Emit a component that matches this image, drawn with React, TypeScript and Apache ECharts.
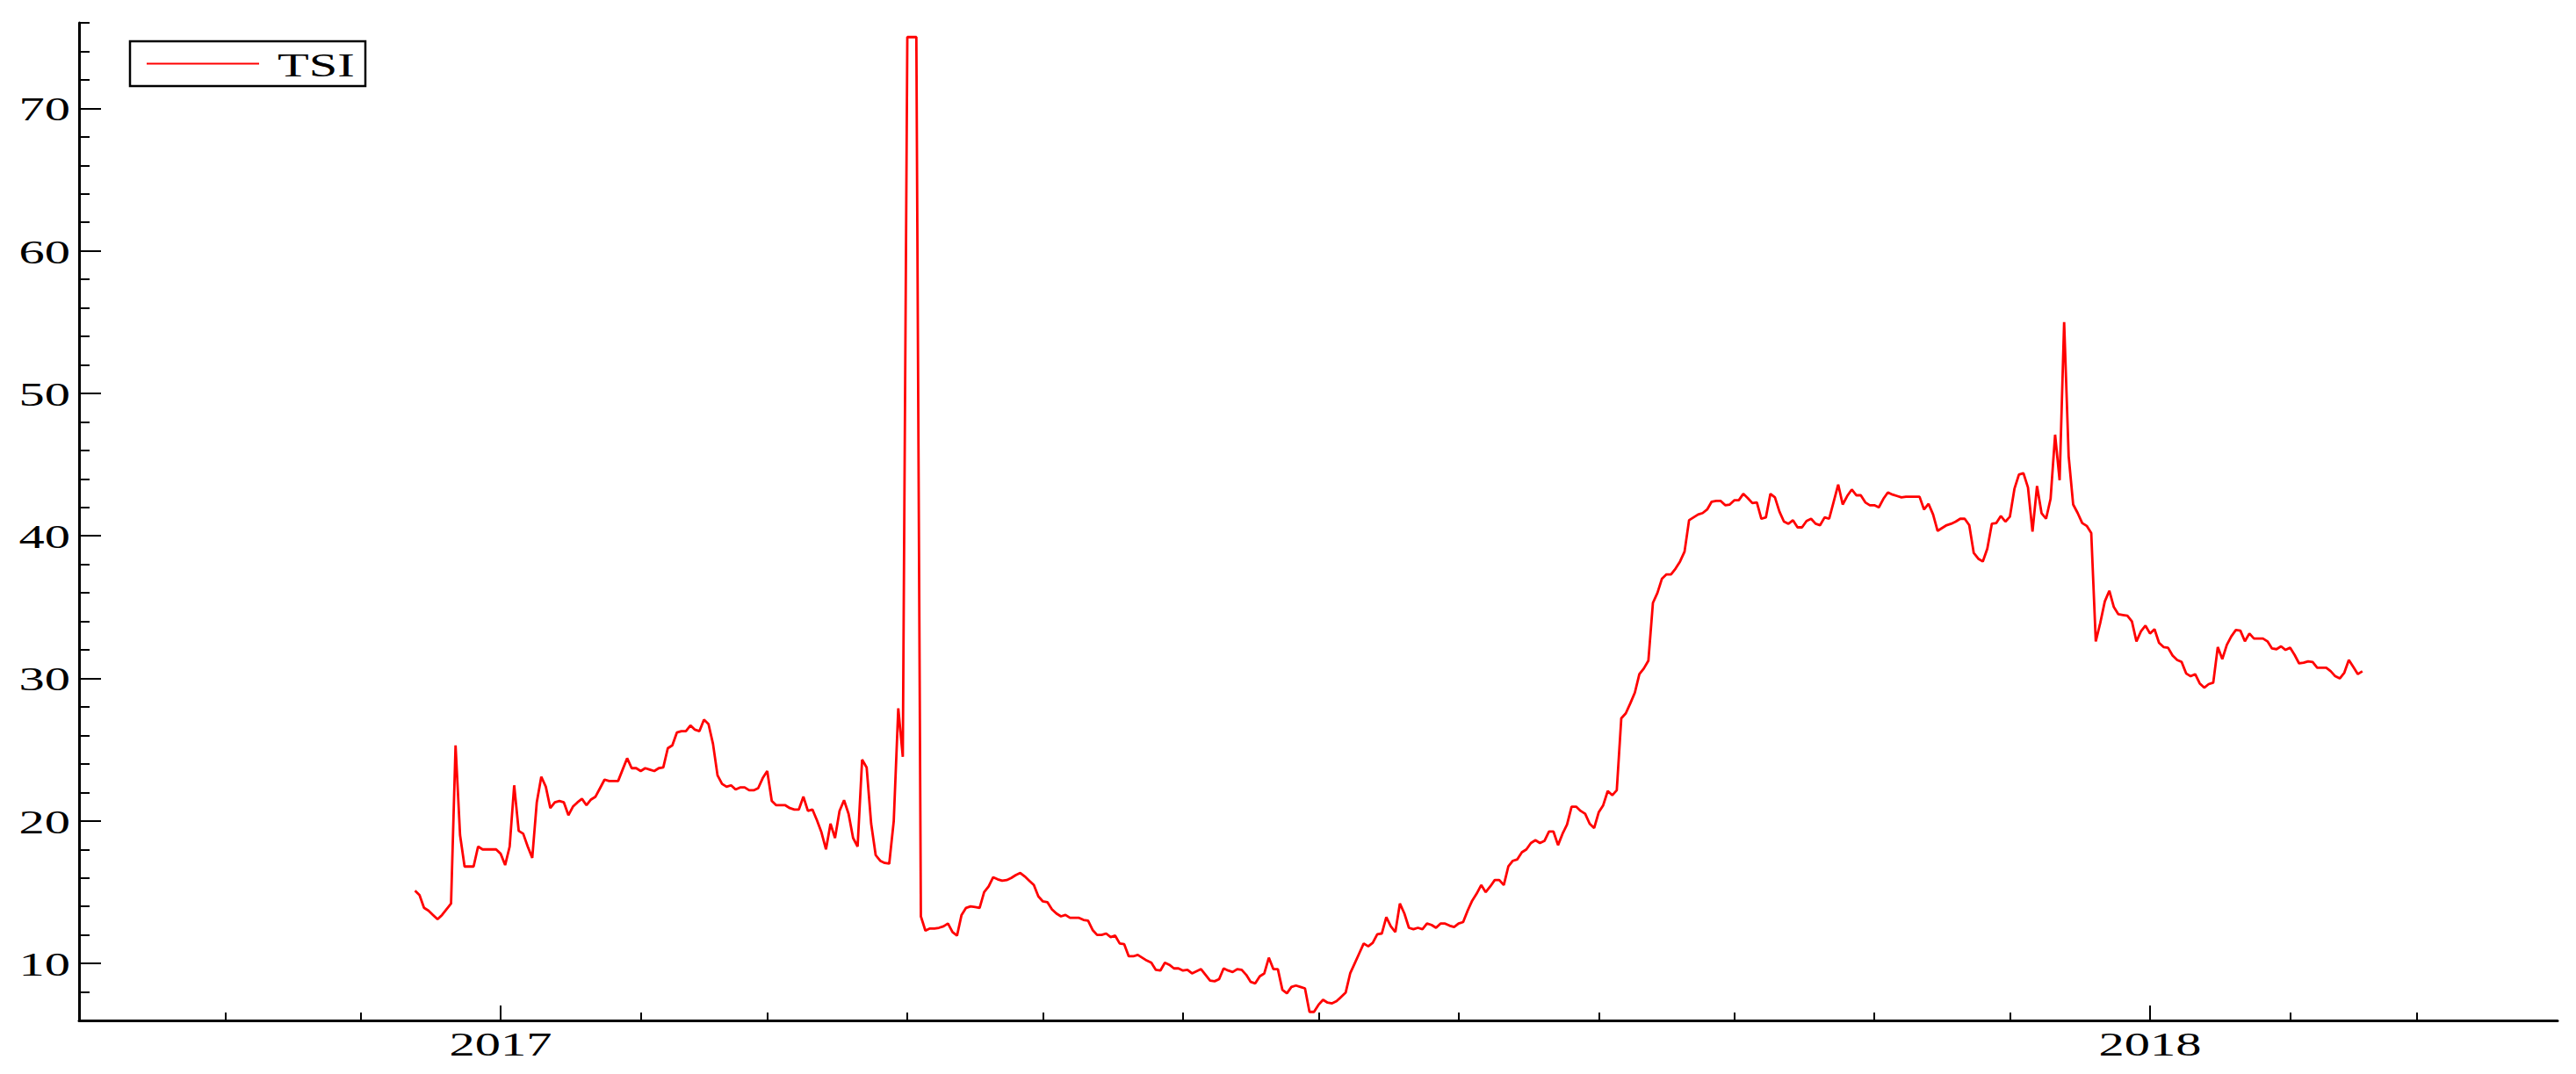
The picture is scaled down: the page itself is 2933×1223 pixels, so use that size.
import React, { useEffect, useRef } from 'react';
import * as echarts from 'echarts';

// ---- data ----
const seriesName = 'TSI';
const startDate = '2016-12-13'; // first daily observation
const tsi: number[] = [
  15.1, 14.8, 13.9, 13.7, 13.4, 13.1, 13.4, 13.8, 14.2, 25.3,
  19.0, 16.8, 16.8, 16.8, 18.2, 18.0, 18.0, 18.0, 18.0, 17.7,
  16.9, 18.2, 22.5, 19.3, 19.1, 18.2, 17.4, 21.3, 23.1, 22.4,
  20.9, 21.3, 21.4, 21.3, 20.4, 21.0, 21.3, 21.55, 21.1, 21.5,
  21.7, 22.3, 22.9, 22.8, 22.8, 22.8, 23.6, 24.4, 23.7, 23.7,
  23.5, 23.7, 23.6, 23.5, 23.7, 23.75, 25.1, 25.3, 26.2, 26.3,
  26.3, 26.7, 26.4, 26.3, 27.1, 26.8, 25.4, 23.2, 22.6, 22.4,
  22.5, 22.2, 22.35, 22.35, 22.15, 22.15, 22.3, 23.0, 23.5, 21.4,
  21.1, 21.1, 21.1, 20.9, 20.8, 20.8, 21.7, 20.7, 20.8, 20.05,
  19.2, 18.0, 19.8, 18.8, 20.7, 21.45, 20.5, 18.8, 18.2, 24.3,
  23.75, 19.8, 17.6, 17.2, 17.05, 17.0, 20.0, 27.9, 24.5, 75,
  75, 75, 13.3, 12.3, 12.45, 12.45, 12.5, 12.6, 12.8, 12.2,
  11.95, 13.4, 13.9, 14.0, 13.95, 13.9, 15.0, 15.4, 16.05, 15.9,
  15.8, 15.85, 16.0, 16.2, 16.35, 16.1, 15.8, 15.5, 14.7, 14.35,
  14.3, 13.8, 13.5, 13.3, 13.4, 13.2, 13.2, 13.2, 13.05, 13.0,
  12.35, 12.0, 12.0, 12.1, 11.85, 11.95, 11.4, 11.35, 10.5, 10.5,
  10.6, 10.4, 10.2, 10.05, 9.55, 9.5, 10.05, 9.9, 9.65, 9.65,
  9.5, 9.55, 9.3, 9.45, 9.6, 9.2, 8.8, 8.75, 8.9,
  9.65, 9.5, 9.4, 9.6, 9.55, 9.2, 8.7, 8.6, 9.1, 9.3,
  10.4, 9.6, 9.6, 8.15, 7.9, 8.35, 8.45, 8.35, 8.25, 6.6,
  6.6, 7.1, 7.45, 7.25, 7.2, 7.35, 7.65, 7.95, 9.3, 10.0,
  10.7, 11.4, 11.2, 11.45, 12.05, 12.1, 13.25, 12.6, 12.2, 14.2,
  13.5, 12.5, 12.4, 12.5, 12.4, 12.8, 12.7, 12.5, 12.8, 12.8,
  12.65, 12.55, 12.8, 12.9, 13.7, 14.4, 14.9, 15.5, 15.0, 15.4,
  15.85, 15.85, 15.5, 16.8, 17.2, 17.3, 17.8, 18.0, 18.45, 18.65,
  18.45, 18.6, 19.25, 19.25, 18.3, 19.1, 19.75, 21.0, 21.0, 20.7,
  20.5, 19.8, 19.5, 20.6, 21.1, 22.1, 21.8, 22.15, 27.2, 27.55,
  28.25, 29.0, 30.3, 30.7, 31.25, 35.3, 36.0, 37.0, 37.3, 37.3,
  37.7, 38.2, 38.9, 41.1, 41.3, 41.5, 41.6, 41.85, 42.4, 42.45,
  42.45, 42.15, 42.2, 42.5, 42.5, 42.95, 42.65, 42.3, 42.35, 41.2,
  41.3, 42.95, 42.7, 41.7, 41.0, 40.85, 41.1, 40.6, 40.6, 41.05,
  41.2, 40.85, 40.75, 41.3, 41.2, 42.4, 43.6, 42.2, 42.8, 43.25,
  42.85, 42.85, 42.35, 42.15, 42.15, 42.0, 42.6, 43.05, 42.9, 42.8,
  42.7, 42.75, 42.75, 42.75, 42.75, 41.85, 42.25, 41.5, 40.35, 40.55,
  40.75, 40.85, 41.0, 41.2, 41.2, 40.75, 38.8, 38.4, 38.2, 39.1,
  40.85, 40.9, 41.4, 41.0, 41.35, 43.3, 44.3, 44.4, 43.4, 40.3,
  43.5, 41.6, 41.2, 42.6, 47.1, 43.9, 55.0, 45.6, 42.2, 41.6,
  40.9, 40.7, 40.2, 32.6, 33.9, 35.4, 36.15, 35.0, 34.5, 34.45,
  34.4, 34.0, 32.6, 33.3, 33.7, 33.15, 33.45, 32.5, 32.2, 32.15,
  31.6, 31.3, 31.15, 30.35, 30.15, 30.3, 29.65, 29.35, 29.6, 29.7,
  32.2, 31.35, 32.35, 32.95, 33.4, 33.35, 32.6, 33.15, 32.8, 32.8,
  32.8, 32.6, 32.1, 32.05, 32.25, 32.0, 32.15, 31.65, 31.05, 31.1,
  31.2, 31.15, 30.75, 30.75, 30.75, 30.5, 30.15, 30.0, 30.4, 31.3,
  30.8, 30.3, 30.5,
];

const xMin = 2016.7444; // decimal years
const xMax = 2018.2471;
const yMin = 6;
const yMax = 76;
const yearLabels = [2017, 2018];
const monthTickDates = [
  '2016-11-01', '2016-12-01',
  '2017-01-01', '2017-02-01', '2017-03-01', '2017-04-01', '2017-05-01', '2017-06-01',
  '2017-07-01', '2017-08-01', '2017-09-01', '2017-10-01', '2017-11-01', '2017-12-01',
  '2018-01-01', '2018-02-01', '2018-03-01',
];
const yLabels = [10, 20, 30, 40, 50, 60, 70];
const yMinorTicks = [8, 10, 12, 14, 16, 18, 20, 22, 24, 26, 28, 30, 32, 34, 36, 38, 40, 42, 44, 46, 48, 50, 52, 54, 56, 58, 60, 62, 64, 66, 68, 70, 72, 74, 76];

// ---- helpers ----
function toDecimalYear(ts: number): number {
  const d = new Date(ts);
  const y = d.getUTCFullYear();
  const s = Date.UTC(y, 0, 1);
  const e = Date.UTC(y + 1, 0, 1);
  return y + (ts - s) / (e - s);
}
function parseDay(s: string, offset = 0): number {
  const [y, m, d] = s.split('-').map(Number);
  return Date.UTC(y, m - 1, d + offset);
}

const FONT = '39px "Liberation Serif", "Times New Roman", serif';
const STRETCH = 1.5;

export default function App() {
  const ref = useRef<HTMLDivElement>(null);

  useEffect(() => {
    if (!ref.current) return;
    const chart = echarts.init(ref.current, undefined, { renderer: 'svg' });
    const data = tsi.map((v, i) => [toDecimalYear(parseDay(startDate, i)), v]);
    const monthTicks = monthTickDates.map((s) => toDecimalYear(parseDay(s)));

    const axisLineStyle = { color: '#000', width: 3 };
    const tickLineStyle = { color: '#000', width: 2 };

    chart.setOption({
      animation: false,
      backgroundColor: '#ffffff',
      grid: { left: 90, right: 21, top: 26, bottom: 61, containLabel: false },
      xAxis: [
        {
          type: 'value', min: xMin, max: xMax, position: 'bottom',
          axisLine: { show: true, lineStyle: axisLineStyle },
          axisTick: { show: true, inside: true, length: 9, customValues: monthTicks, lineStyle: tickLineStyle },
          axisLabel: { show: false },
          splitLine: { show: false },
        },
        {
          type: 'value', min: xMin, max: xMax, position: 'bottom',
          axisLine: { show: false },
          axisTick: { show: true, inside: true, length: 17, customValues: yearLabels, lineStyle: tickLineStyle },
          axisLabel: { show: false },
          splitLine: { show: false },
        },
      ],
      yAxis: [
        {
          type: 'value', min: yMin, max: yMax, position: 'left',
          axisLine: { show: true, lineStyle: axisLineStyle },
          axisTick: { show: true, inside: true, length: 12, customValues: yMinorTicks, lineStyle: tickLineStyle },
          axisLabel: { show: false },
          splitLine: { show: false },
        },
        {
          type: 'value', min: yMin, max: yMax, position: 'left',
          axisLine: { show: false },
          axisTick: { show: true, inside: true, length: 25, customValues: yLabels, lineStyle: tickLineStyle },
          axisLabel: { show: false },
          splitLine: { show: false },
        },
      ],
      series: [
        {
          type: 'line',
          name: seriesName,
          data,
          xAxisIndex: 0,
          yAxisIndex: 0,
          showSymbol: false,
          symbol: 'none',
          lineStyle: { color: '#ff0000', width: 2.8 },
          itemStyle: { color: '#ff0000' },
          clip: true,
        },
      ],
    });

    const axisX = chart.convertToPixel({ xAxisIndex: 0 }, xMin) as number;
    const axisY = chart.convertToPixel({ yAxisIndex: 0 }, yMin) as number;

    const els: any[] = [];
    yearLabels.forEach((yr) => {
      const px = chart.convertToPixel({ xAxisIndex: 0 }, yr) as number;
      els.push({
        type: 'text', x: px, y: axisY + 27, scaleX: STRETCH, z: 10,
        style: { text: String(yr), font: FONT, fill: '#000', align: 'center', textAlign: 'center', verticalAlign: 'middle', textVerticalAlign: 'middle' },
      });
    });
    yLabels.forEach((v) => {
      const py = chart.convertToPixel({ yAxisIndex: 0 }, v) as number;
      els.push({
        type: 'text', x: axisX - 10, y: py + 1, scaleX: STRETCH, z: 10,
        style: { text: String(v), font: FONT, fill: '#000', align: 'right', textAlign: 'right', verticalAlign: 'middle', textVerticalAlign: 'middle' },
      });
    });
    // legend box
    els.push({
      type: 'rect', z: 20,
      shape: { x: 148, y: 47, width: 268, height: 51 },
      style: { fill: '#ffffff', stroke: '#000', lineWidth: 2.5 },
    });
    els.push({
      type: 'line', z: 21,
      shape: { x1: 167, y1: 72.5, x2: 295, y2: 72.5 },
      style: { stroke: '#ff0000', lineWidth: 2.2 },
    });
    els.push({
      type: 'text', x: 316, y: 74, scaleX: STRETCH, z: 21,
      style: { text: seriesName, font: FONT, fill: '#000', align: 'left', textAlign: 'left', verticalAlign: 'middle', textVerticalAlign: 'middle' },
    });

    chart.setOption({ graphic: els });

    return () => {
      chart.dispose();
    };
  }, []);

  return (
    <div
      ref={ref}
      style={{ position: 'fixed', left: 0, top: 0, width: 2933, height: 1223, background: '#fff' }}
    />
  );
}
